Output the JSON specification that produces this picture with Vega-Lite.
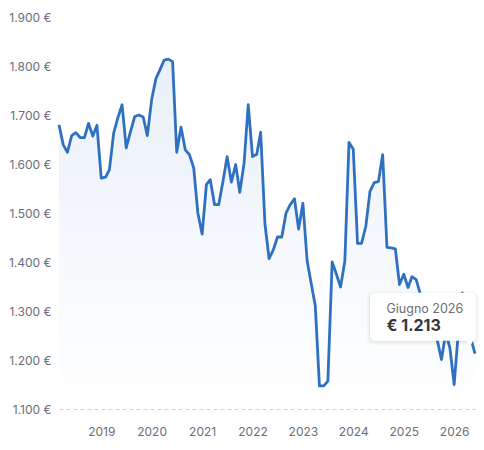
{
  "$schema": "https://vega.github.io/schema/vega-lite/v6.json",
  "autosize": "none",
  "width": 416,
  "height": 392,
  "padding": {"left": 59, "top": 17, "right": 9, "bottom": 41},
  "background": "white",
  "config": {"view": {"stroke": null}, "font": "Inter"},
  "data": {"values": [
    {"date": "2018-03-01", "value": 1680}, {"date": "2018-04-01", "value": 1639}, {"date": "2018-05-01", "value": 1624}, {"date": "2018-06-01", "value": 1658},
    {"date": "2018-07-01", "value": 1664}, {"date": "2018-08-01", "value": 1654}, {"date": "2018-09-01", "value": 1654}, {"date": "2018-10-01", "value": 1683},
    {"date": "2018-11-01", "value": 1657}, {"date": "2018-12-01", "value": 1679}, {"date": "2019-01-01", "value": 1571}, {"date": "2019-02-01", "value": 1573},
    {"date": "2019-03-01", "value": 1588}, {"date": "2019-04-01", "value": 1663}, {"date": "2019-05-01", "value": 1694}, {"date": "2019-06-01", "value": 1721},
    {"date": "2019-07-01", "value": 1633}, {"date": "2019-08-01", "value": 1666}, {"date": "2019-09-01", "value": 1697}, {"date": "2019-10-01", "value": 1700},
    {"date": "2019-11-01", "value": 1696}, {"date": "2019-12-01", "value": 1658}, {"date": "2020-01-01", "value": 1731}, {"date": "2020-02-01", "value": 1774},
    {"date": "2020-03-01", "value": 1792}, {"date": "2020-04-01", "value": 1812}, {"date": "2020-05-01", "value": 1814}, {"date": "2020-06-01", "value": 1809},
    {"date": "2020-07-01", "value": 1624}, {"date": "2020-08-01", "value": 1675}, {"date": "2020-09-01", "value": 1629}, {"date": "2020-10-01", "value": 1619},
    {"date": "2020-11-01", "value": 1592}, {"date": "2020-12-01", "value": 1500}, {"date": "2021-01-01", "value": 1457}, {"date": "2021-02-01", "value": 1558},
    {"date": "2021-03-01", "value": 1568}, {"date": "2021-04-01", "value": 1517}, {"date": "2021-05-01", "value": 1517}, {"date": "2021-06-01", "value": 1565},
    {"date": "2021-07-01", "value": 1615}, {"date": "2021-08-01", "value": 1563}, {"date": "2021-09-01", "value": 1599}, {"date": "2021-10-01", "value": 1542},
    {"date": "2021-11-01", "value": 1602}, {"date": "2021-12-01", "value": 1721}, {"date": "2022-01-01", "value": 1615}, {"date": "2022-02-01", "value": 1620},
    {"date": "2022-03-01", "value": 1665}, {"date": "2022-04-01", "value": 1478}, {"date": "2022-05-01", "value": 1407}, {"date": "2022-06-01", "value": 1425},
    {"date": "2022-07-01", "value": 1451}, {"date": "2022-08-01", "value": 1451}, {"date": "2022-09-01", "value": 1500}, {"date": "2022-10-01", "value": 1517},
    {"date": "2022-11-01", "value": 1529}, {"date": "2022-12-01", "value": 1467}, {"date": "2023-01-01", "value": 1520}, {"date": "2023-02-01", "value": 1402},
    {"date": "2023-03-01", "value": 1358}, {"date": "2023-04-01", "value": 1310}, {"date": "2023-05-01", "value": 1147}, {"date": "2023-06-01", "value": 1147},
    {"date": "2023-07-01", "value": 1157}, {"date": "2023-08-01", "value": 1400}, {"date": "2023-09-01", "value": 1375}, {"date": "2023-10-01", "value": 1349},
    {"date": "2023-11-01", "value": 1402}, {"date": "2023-12-01", "value": 1644}, {"date": "2024-01-01", "value": 1630}, {"date": "2024-02-01", "value": 1438},
    {"date": "2024-03-01", "value": 1438}, {"date": "2024-04-01", "value": 1473}, {"date": "2024-05-01", "value": 1544}, {"date": "2024-06-01", "value": 1562},
    {"date": "2024-07-01", "value": 1564}, {"date": "2024-08-01", "value": 1619}, {"date": "2024-09-01", "value": 1430}, {"date": "2024-10-01", "value": 1429},
    {"date": "2024-11-01", "value": 1427}, {"date": "2024-12-01", "value": 1354}, {"date": "2025-01-01", "value": 1375}, {"date": "2025-02-01", "value": 1348},
    {"date": "2025-03-01", "value": 1370}, {"date": "2025-04-01", "value": 1364}, {"date": "2025-05-01", "value": 1334}, {"date": "2025-06-01", "value": 1300},
    {"date": "2025-07-01", "value": 1290}, {"date": "2025-08-01", "value": 1250}, {"date": "2025-09-01", "value": 1240}, {"date": "2025-10-01", "value": 1201},
    {"date": "2025-11-01", "value": 1255}, {"date": "2025-12-01", "value": 1225}, {"date": "2026-01-01", "value": 1150}, {"date": "2026-02-01", "value": 1260},
    {"date": "2026-03-01", "value": 1337}, {"date": "2026-04-01", "value": 1300}, {"date": "2026-05-01", "value": 1245}, {"date": "2026-06-01", "value": 1213}
  ]},
  "encoding": {
    "x": {
      "field": "date", "type": "temporal",
      "scale": {"domain": ["2018-03-01", "2026-06-01"], "nice": false},
      "axis": {
        "title": null, "format": "%Y", "tickCount": {"interval": "year", "step": 1},
        "grid": false, "ticks": false, "domain": true, "domainColor": "#d4d4d8", "domainDash": [4, 3], "domainWidth": 1,
        "labelColor": "#6b6e78", "labelFontSize": 12, "labelPadding": 17, "labelFont": "Inter"
      }
    },
    "y": {
      "field": "value", "type": "quantitative",
      "scale": {"domain": [1100, 1900], "zero": false, "nice": false},
      "axis": {
        "title": null, "values": [1100, 1200, 1300, 1400, 1500, 1600, 1700, 1800, 1900],
        "labelExpr": "replace(format(datum.value, ',d'), ',', '.') + ' €'",
        "grid": false, "ticks": false, "domain": false,
        "labelColor": "#6b6e78", "labelFontSize": 12, "labelPadding": 8, "labelFont": "Inter"
      }
    }
  },
  "layer": [
    {
      "mark": {"type": "area", "interpolate": "linear",
        "color": {"gradient": "linear", "x1": 0, "y1": 0, "x2": 0, "y2": 1,
          "stops": [{"offset": 0, "color": "rgba(47,113,193,0.10)"}, {"offset": 1, "color": "rgba(47,113,193,0.0)"}]}},
      "encoding": {"y2": {"datum": 1100}}
    },
    {
      "mark": {"type": "line", "color": "#2f71c0", "strokeWidth": 2.8, "strokeJoin": "round"}
    },
    {
      "transform": [{"filter": "datum.value == 1213"}],
      "layer": [
        {
          "mark": {"type": "rect", "fill": "#1f2937", "opacity": 0.04, "cornerRadius": 7,
            "xOffset": -108, "x2Offset": 4, "yOffset": -62, "y2Offset": -9},
          "encoding": {"x2": {"field": "date"}, "y2": {"field": "value"}}
        },
        {
          "mark": {"type": "rect", "fill": "#1f2937", "opacity": 0.05, "cornerRadius": 6,
            "xOffset": -106, "x2Offset": 2, "yOffset": -61, "y2Offset": -11},
          "encoding": {"x2": {"field": "date"}, "y2": {"field": "value"}}
        },
        {
          "mark": {"type": "rect", "fill": "white", "cornerRadius": 5,
            "xOffset": -105, "x2Offset": 1, "yOffset": -61, "y2Offset": -13},
          "encoding": {"x2": {"field": "date"}, "y2": {"field": "value"}}
        },
        {
          "mark": {"type": "point", "shape": "triangle-down", "filled": true, "fill": "white", "opacity": 1, "strokeWidth": 0,
            "size": 70, "xOffset": -5, "yOffset": -11}
        },
        {
          "mark": {"type": "text", "text": "Giugno 2026", "align": "left", "baseline": "alphabetic",
            "font": "Inter", "fontSize": 12.5, "color": "#6b6e78", "xOffset": -88.5, "yOffset": -40.5}
        },
        {
          "transform": [{"calculate": "'€ ' + replace(format(datum.value, ',d'), ',', '.')", "as": "lbl"}],
          "mark": {"type": "text", "align": "left", "baseline": "alphabetic",
            "font": "Inter", "fontSize": 16, "fontWeight": "bold", "color": "#33363d", "xOffset": -88.5, "yOffset": -23},
          "encoding": {"text": {"field": "lbl"}}
        }
      ]
    }
  ]
}
